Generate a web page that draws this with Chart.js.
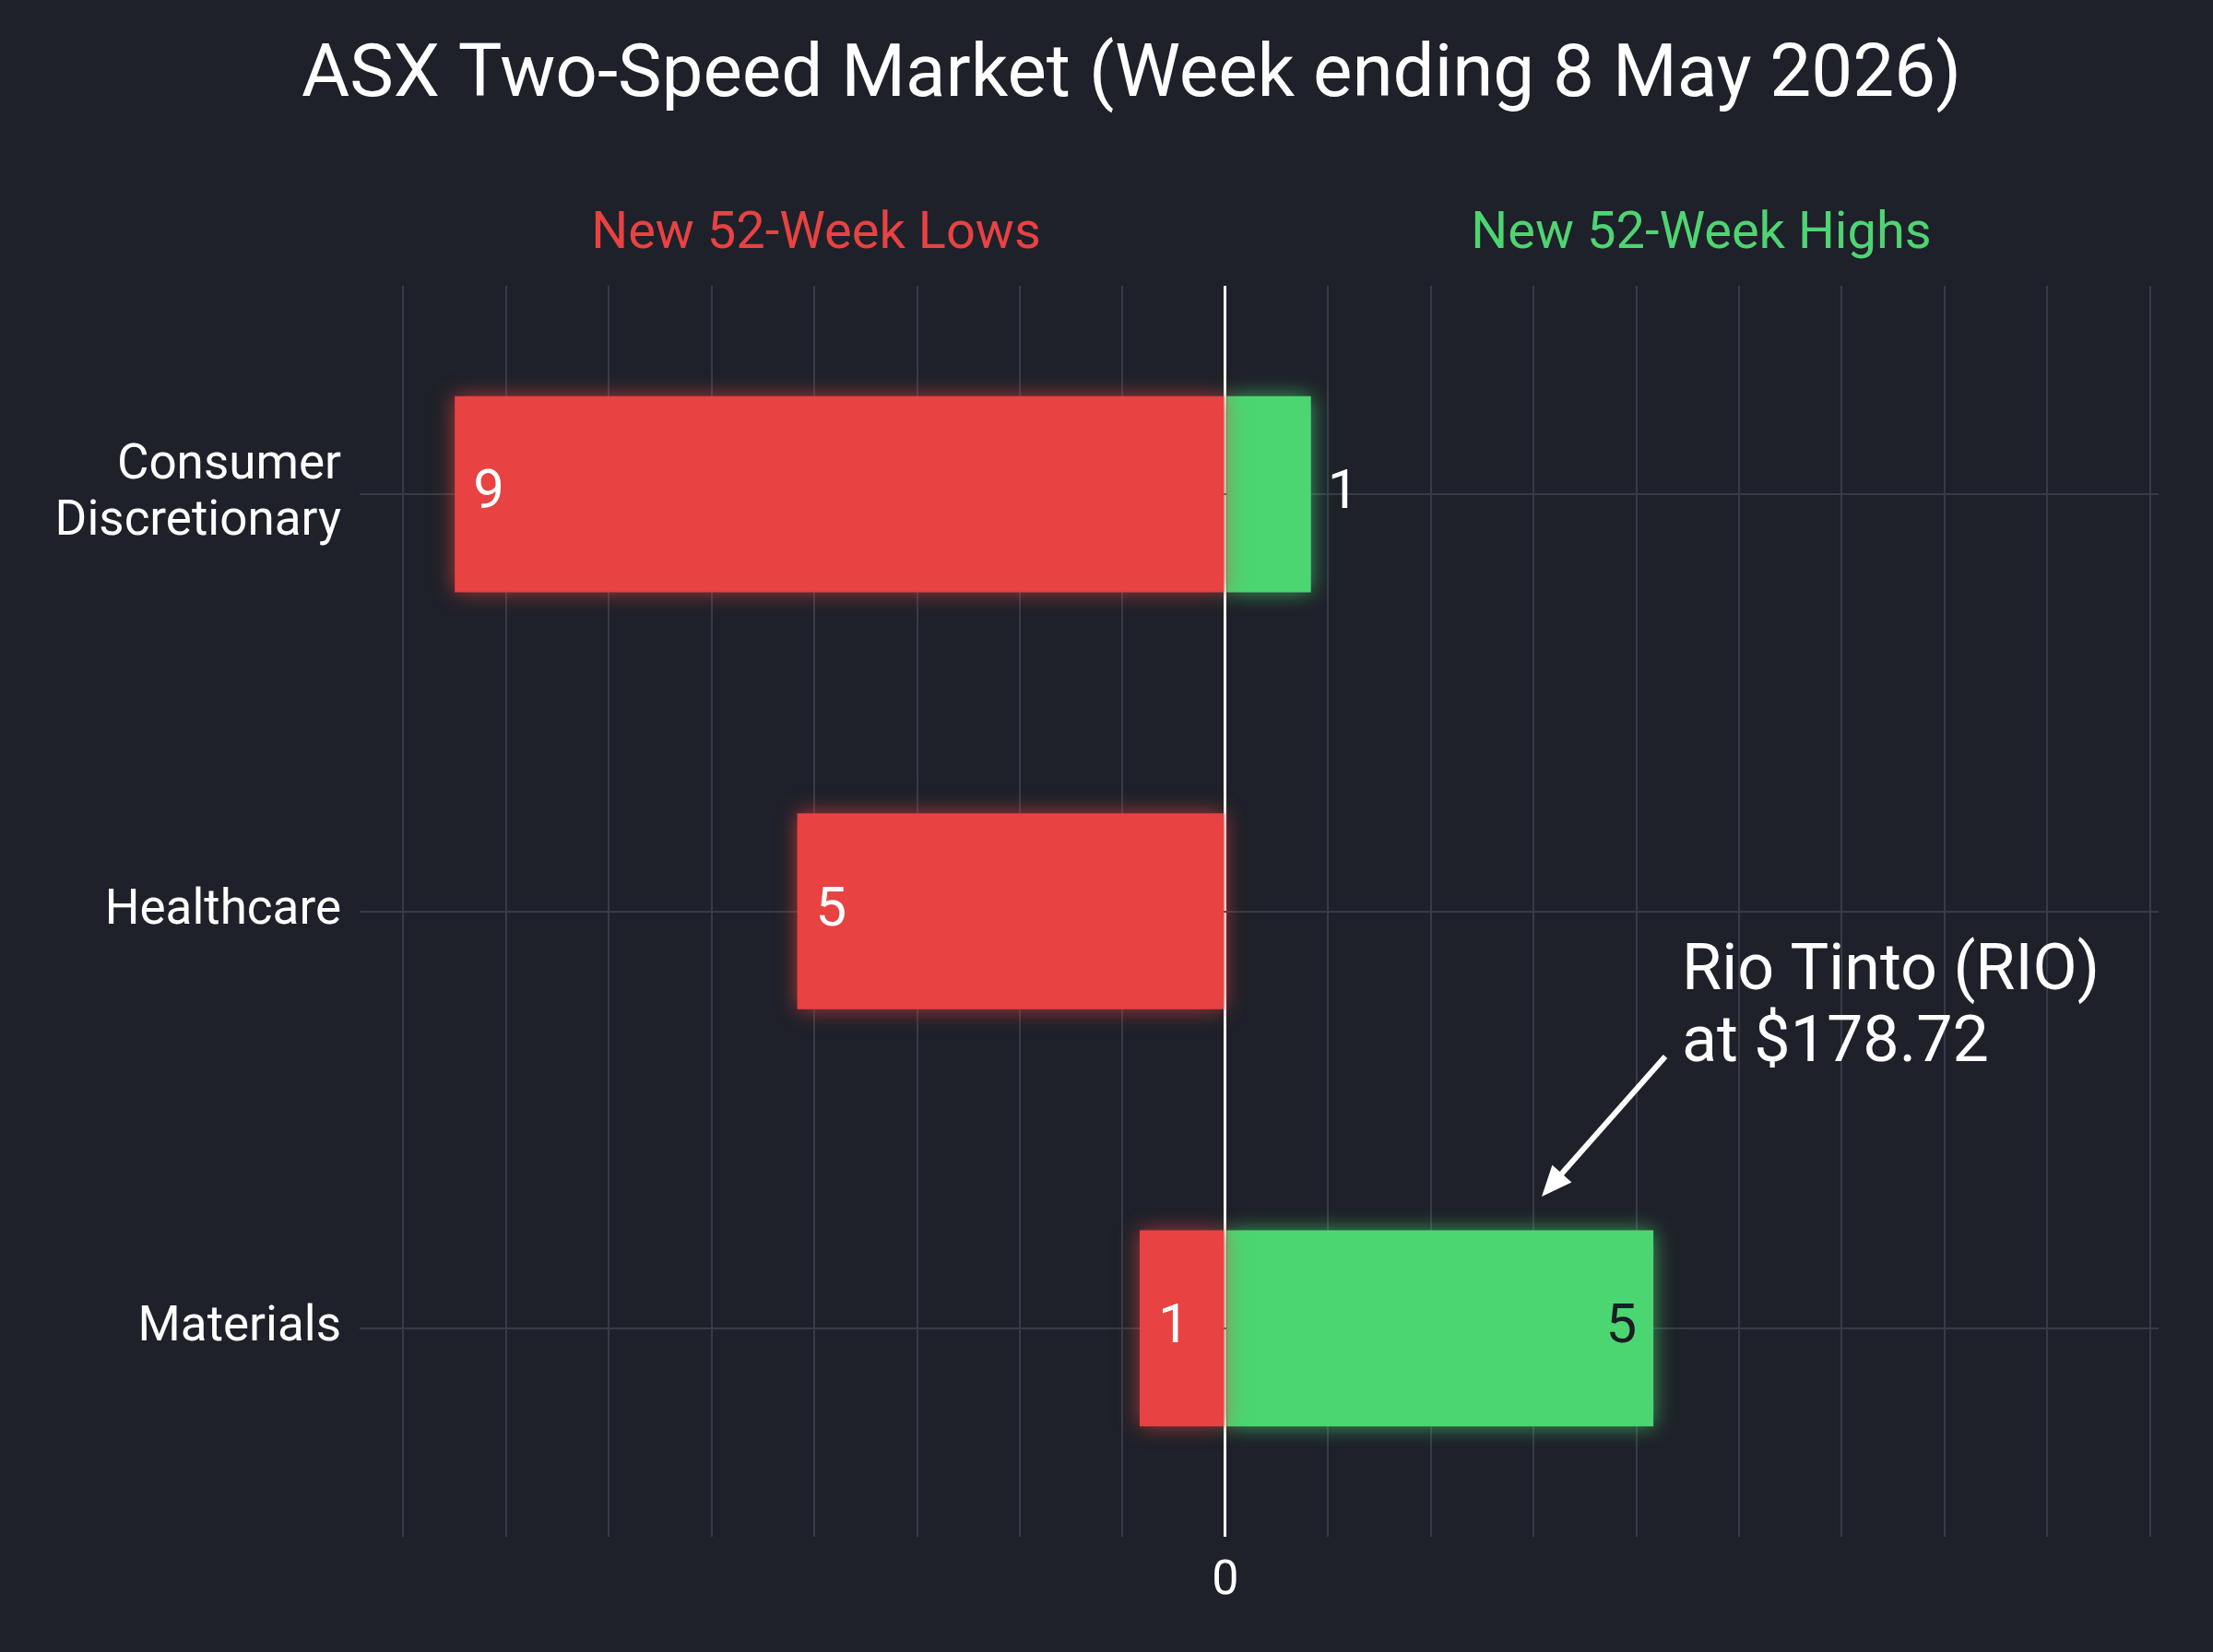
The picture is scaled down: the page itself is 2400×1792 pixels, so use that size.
<!DOCTYPE html>
<html><head><meta charset="utf-8">
<script src="https://cdn.jsdelivr.net/npm/chart.js@4"></script>
<style>html,body{margin:0;background:#1e2129;}#w{width:2400px;height:1792px;}</style>
</head><body><div id="w"><canvas id="c"></canvas></div>
<script>
const categories = ['Consumer Discretionary', 'Healthcare', 'Materials'];
const lows = [9, 5, 1];
const highs = [1, 0, 5];
const titleText = 'ASX Two-Speed Market (Week ending 8 May 2026)';
const lowsLabel = 'New 52-Week Lows';
const highsLabel = 'New 52-Week Highs';
const annotationLines = ['Rio Tinto (RIO)', 'at $178.72'];

const RED = '#e84242', GREEN = '#4bd672', FONT = 'Roboto, "Noto Sans", sans-serif';

const overlay = {
  id: 'overlay',
  beforeDatasetDraw(chart, args) {
    const c = chart.ctx; c.save();
    c.shadowColor = args.index === 0 ? 'rgba(232,66,66,0.7)' : 'rgba(75,214,114,0.7)';
    c.shadowBlur = 22;
  },
  afterDatasetDraw(chart) { chart.ctx.restore(); },
  afterDraw(chart) {
    const c = chart.ctx;
    c.save();
    c.fillStyle = '#fff'; c.textAlign = 'center'; c.textBaseline = 'middle';
    c.font = `80px ${FONT}`;
    c.fillText(titleText, 1227, 84);
    c.font = `56px ${FONT}`;
    c.fillStyle = RED; c.fillText(lowsLabel, 885, 255);
    c.fillStyle = '#4fd473'; c.fillText(highsLabel, 1845, 255);
    c.font = `60px ${FONT}`;
    const m0 = chart.getDatasetMeta(0), m1 = chart.getDatasetMeta(1);
    m0.data.forEach((b, i) => {
      if (!lows[i]) return;
      c.fillStyle = '#fff'; c.textAlign = 'left';
      c.fillText(String(lows[i]), b.x + 20, b.y);
    });
    m1.data.forEach((b, i) => {
      if (!highs[i]) return;
      if (highs[i] >= 3) { c.fillStyle = '#1a1d24'; c.textAlign = 'right'; c.fillText(String(highs[i]), b.x - 18, b.y); }
      else { c.fillStyle = '#fff'; c.textAlign = 'left'; c.fillText(String(highs[i]), b.x + 18, b.y); }
    });
    c.font = `70px ${FONT}`; c.fillStyle = '#fff'; c.textAlign = 'left';
    c.fillText(annotationLines[0], 1824, 1055);
    c.fillText(annotationLines[1], 1824, 1133);
    const x1 = 1806, y1 = 1146, x2 = 1672, y2 = 1298;
    c.strokeStyle = '#fff'; c.lineWidth = 6;
    c.beginPath(); c.moveTo(x1, y1); c.lineTo(x2 + 12, y2 - 14); c.stroke();
    const a = Math.atan2(y2 - y1, x2 - x1);
    c.beginPath(); c.moveTo(x2, y2);
    c.lineTo(x2 - 36 * Math.cos(a - 0.4), y2 - 36 * Math.sin(a - 0.4));
    c.lineTo(x2 - 36 * Math.cos(a + 0.4), y2 - 36 * Math.sin(a + 0.4));
    c.closePath(); c.fill();
    c.restore();
  }
};

new Chart(document.getElementById('c'), {
  type: 'bar',
  data: {
    labels: categories.map(s => s === 'Consumer Discretionary' ? ['Consumer', 'Discretionary'] : s),
    datasets: [
      { label: lowsLabel, data: lows.map(v => -v), backgroundColor: RED },
      { label: highsLabel, data: highs, backgroundColor: GREEN }
    ]
  },
  options: {
    indexAxis: 'y', responsive: true, maintainAspectRatio: false, animation: false,
    layout: { padding: { top: 310, right: 59, left: 0, bottom: 0 } },
    barPercentage: 0.47, categoryPercentage: 1,
    plugins: { legend: { display: false }, tooltip: { enabled: false } },
    scales: {
      x: {
        stacked: true, min: -9.4, max: 10.9,
        afterBuildTicks(s) { const t = []; for (let k = -8; k <= 9; k++) t.push({ value: +(k * 1.2).toFixed(2) }); s.ticks = t; },
        afterFit(s) { s.height = 125; },
        ticks: { color: '#fff', font: { size: 52, family: FONT }, padding: 18,
          callback: v => (Math.abs(v) < 1e-9 ? '0' : '') },
        grid: { color: ctx => (ctx.tick && Math.abs(ctx.tick.value) < 1e-9 ? '#ffffff' : '#363c47'),
                lineWidth: ctx => (ctx.tick && Math.abs(ctx.tick.value) < 1e-9 ? 3 : 2), drawTicks: false },
        border: { display: false }
      },
      y: {
        stacked: true,
        afterFit(s) { s.width = 456; },
        ticks: { color: '#fff', font: { size: 53, family: FONT, lineHeight: 1.15 }, padding: 20 },
        grid: { offset: false, color: '#363c47', lineWidth: 2, tickLength: 66 },
        border: { display: false }
      }
    }
  },
  plugins: [overlay]
});
</script></body></html>
